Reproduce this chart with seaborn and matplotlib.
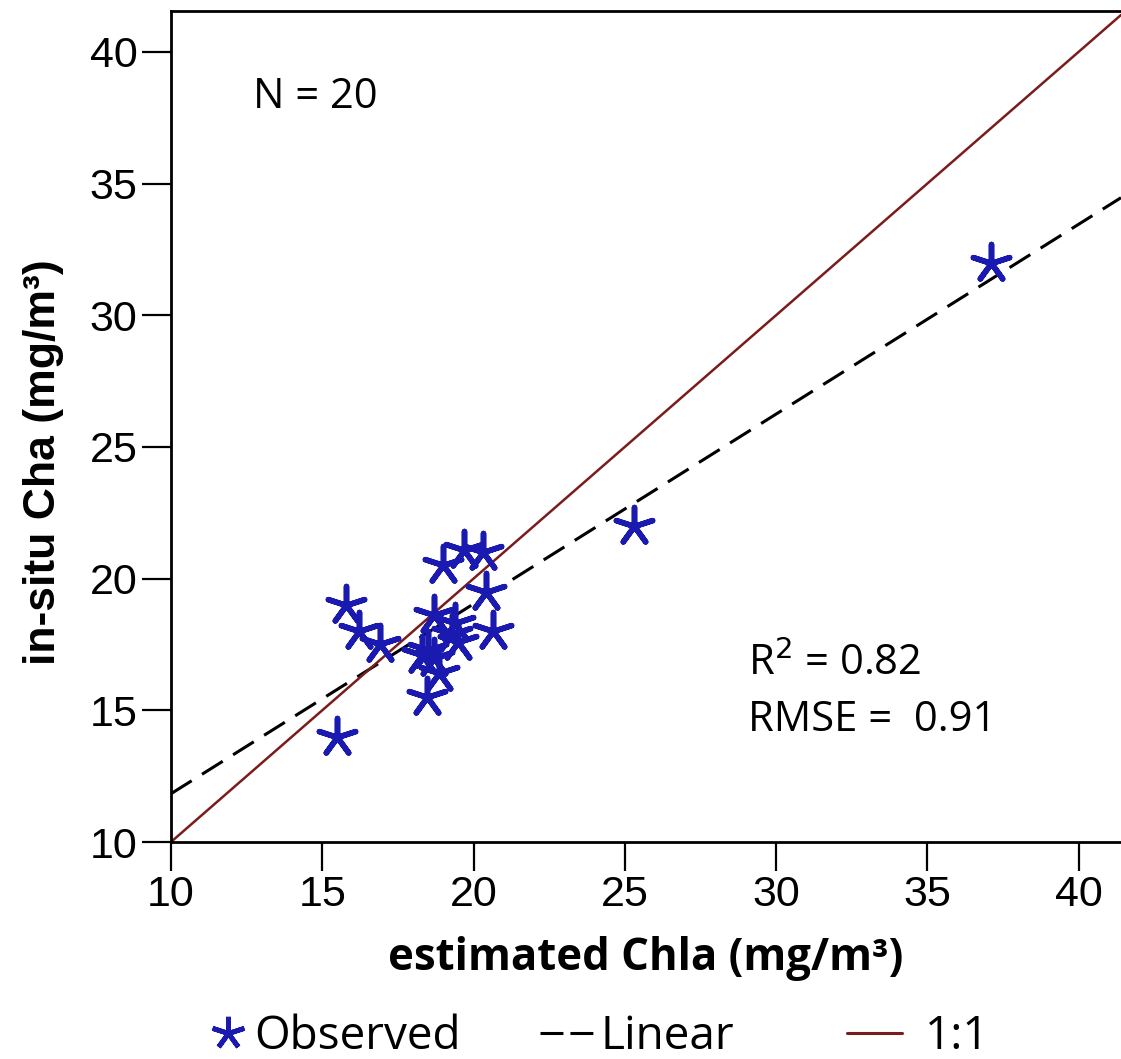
import numpy as np
import pandas as pd
import matplotlib
matplotlib.use("Agg")
import matplotlib.pyplot as plt
from matplotlib.lines import Line2D
import seaborn as sns

# ── Data ────────────────────────────────────────────────────────────────────
estimated = [15.5, 15.8, 16.2, 16.9, 19.0, 19.7, 20.3, 20.4, 20.65, 18.7,
             19.4, 19.5, 18.3, 18.7, 18.85, 18.45, 25.3, 37.1, 19.3, 18.5]
insitu = [14.0, 19.0, 18.0, 17.5, 20.5, 21.1, 21.0, 19.5, 18.0, 18.6,
          18.3, 17.6, 17.1, 17.0, 16.4, 15.5, 22.0, 32.0, 17.9, 17.3]
ticks = [10, 15, 20, 25, 30, 35, 40]
n_label = "N = 20"
r2_label = "R$^2$ = 0.82"
rmse_label = "RMSE =  0.91"
legend_labels = ["Observed", "Linear", "1:1"]

df = pd.DataFrame({"estimated": estimated, "insitu": insitu})
slope, intercept = np.polyfit(df["estimated"], df["insitu"], 1)

BLUE = "#1a1ab0"
RED = "#7b1c1c"
TXT = ["Open Sans", "DejaVu Sans"]

sns.set_theme(style="white")
plt.rcParams["font.family"] = ["Liberation Sans", "DejaVu Sans"]
plt.rcParams["text.color"] = "black"
plt.rcParams["axes.labelcolor"] = "black"

fig = plt.figure(figsize=(11.21, 10.59), dpi=100)
ax = fig.add_axes([0.1525, 0.2049, 0.8475, 0.7847])

star = (5, 2, 0)
sns.scatterplot(data=df, x="estimated", y="insitu", marker=star, s=750,
                color=BLUE, edgecolor=BLUE, linewidth=4, ax=ax, zorder=3,
                legend=False)
ax.axline((0, intercept), slope=slope, color="black", lw=2.2,
          dashes=(8, 4), zorder=2)
ax.axline((10, 10), slope=1, color=RED, lw=1.8, zorder=2)

ax.set_xlim(10, 41.4)
ax.set_ylim(10, 41.55)
ax.set_xticks(ticks)
ax.set_yticks(ticks)
ax.tick_params(direction="out", length=21, width=1.6, labelsize=31,
               pad=3, colors="black", bottom=True, left=True)
for side in ["left", "bottom", "top"]:
    ax.spines[side].set_linewidth(2)
    ax.spines[side].set_color("black")
ax.spines["right"].set_visible(False)

ax.set_xlabel("estimated Chla (mg/m³)", fontsize=31.5, fontweight="bold",
              family=TXT, labelpad=15)
ax.set_ylabel("in-situ Cha (mg/m³)", fontsize=32, fontweight="bold")
ax.yaxis.set_label_coords(-0.113, 0.457)

ax.text(0.086, 0.896, n_label, transform=ax.transAxes, fontsize=30,
        va="center", ha="left", family=TXT)
ax.text(0.607, 0.214, r2_label, transform=ax.transAxes, fontsize=30,
        va="center", ha="left", family=TXT)
ax.text(0.607, 0.147, rmse_label, transform=ax.transAxes, fontsize=30,
        va="center", ha="left", family=TXT)

# three separate legend entries so each sits where the reference has it
entries = [
    (Line2D([], [], ls="none", marker=star, ms=24, mew=3.5, color=BLUE),
     legend_labels[0], 210 / 1121, 0.8, 0.16),
    (Line2D([], [], color="black", lw=2.2, dashes=(7.5, 2.3)),
     legend_labels[1], 540 / 1121, 1.16, 0.15),
    (Line2D([], [], color=RED, lw=2.2),
     legend_labels[2], 847 / 1121, 1.2, 0.5),
]
for handle, label, x0, hl, tp in entries:
    fig.legend([handle], [label], loc="center left",
               bbox_to_anchor=(x0, 0.021), frameon=False, borderpad=0,
               borderaxespad=0, handlelength=hl, handletextpad=tp,
               prop={"family": TXT, "size": 33})

fig.savefig("out.png", dpi=100, facecolor="white")
